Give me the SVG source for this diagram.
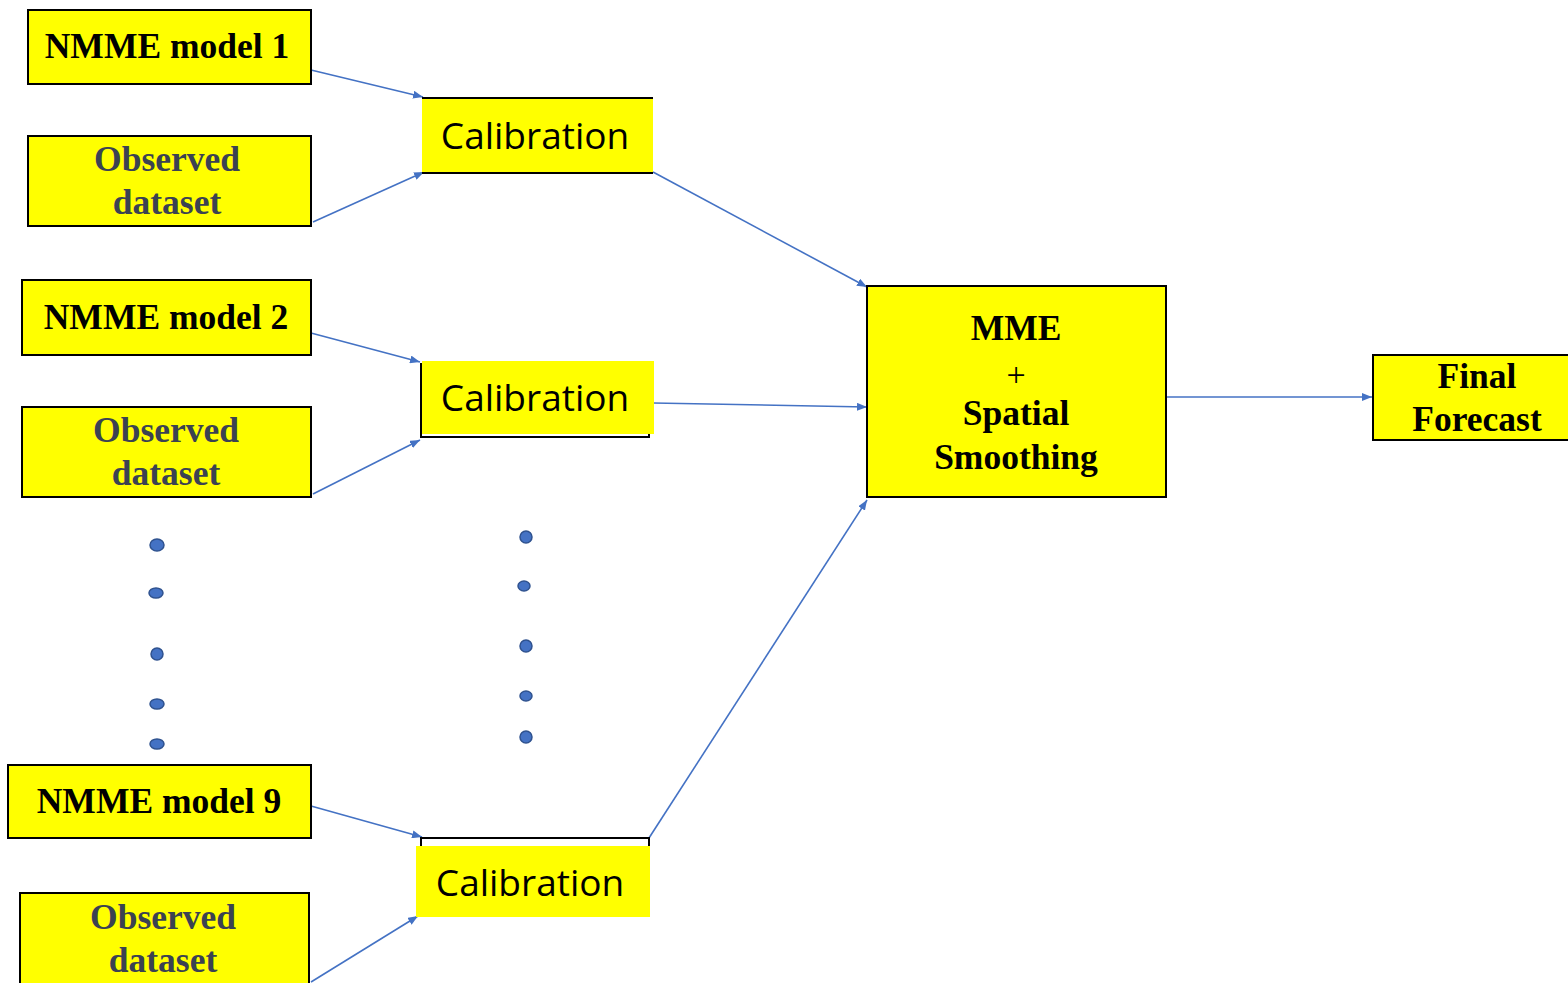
<svg xmlns="http://www.w3.org/2000/svg" width="1568" height="983" viewBox="0 0 1568 983">
<defs>
<marker id="ah" viewBox="0 0 10 8" refX="10" refY="4" markerWidth="10" markerHeight="8" markerUnits="userSpaceOnUse" orient="auto">
<path d="M0,0 L10,4 L0,8 z" fill="#4472C4"/>
</marker>
<style>
.box{fill:#FFFF00;stroke:#000;stroke-width:2}
.fill{fill:#FFFF00}
.nm{font-family:"Liberation Serif","Times New Roman",serif;font-weight:bold;font-size:35.5px;fill:#000;text-anchor:middle}
.ob{font-family:"Liberation Serif","Times New Roman",serif;font-weight:bold;font-size:35.5px;fill:#3B4252;text-anchor:middle}
.cal{font-family:"Open Sans","Noto Sans",sans-serif;font-size:37px;fill:#000;text-anchor:middle}
.con{stroke:#4472C4;stroke-width:1.6;fill:none;marker-end:url(#ah)}
.dot{fill:#4472C4;stroke:#2F528F;stroke-width:1.5}
</style>
</defs>
<rect width="1568" height="983" fill="#fff"/>

<g id="connectors">
<line class="con" x1="311" y1="70" x2="423" y2="97"/>
<line class="con" x1="313" y1="222" x2="424" y2="172"/>
<line class="con" x1="653" y1="172" x2="867" y2="287"/>
<line class="con" x1="311" y1="333" x2="420" y2="362"/>
<line class="con" x1="313" y1="494" x2="420" y2="440"/>
<line class="con" x1="653" y1="403" x2="867" y2="407"/>
<line class="con" x1="311" y1="806" x2="422" y2="837"/>
<line class="con" x1="311" y1="982" x2="418" y2="916"/>
<line class="con" x1="649" y1="838" x2="867" y2="500"/>
<line class="con" x1="1166" y1="397" x2="1372" y2="397"/>
</g>

<g id="nmme1">
<rect class="box" x="28" y="10" width="283" height="74"/>
<text class="nm" x="167" y="58">NMME model 1</text>
</g>
<g id="obs1">
<rect class="box" x="28" y="136" width="283" height="90"/>
<text class="ob" x="167" y="171">Observed</text>
<text class="ob" x="167" y="214">dataset</text>
</g>
<g id="nmme2">
<rect class="box" x="22" y="280" width="289" height="75"/>
<text class="nm" x="166" y="329">NMME model 2</text>
</g>
<g id="obs2">
<rect class="box" x="22" y="407" width="289" height="90"/>
<text class="ob" x="166" y="442">Observed</text>
<text class="ob" x="166" y="485">dataset</text>
</g>
<g id="nmme9">
<rect class="box" x="8" y="765" width="303" height="73"/>
<text class="nm" x="159" y="813">NMME model 9</text>
</g>
<g id="obs3">
<rect class="box" x="20" y="893" width="289" height="100"/>
<text class="ob" x="163" y="929">Observed</text>
<text class="ob" x="163" y="972">dataset</text>
</g>

<g id="cal1">
<rect class="fill" x="422" y="98" width="231" height="75"/>
<line x1="422" y1="98" x2="653" y2="98" stroke="#000" stroke-width="2"/>
<line x1="422" y1="173" x2="653" y2="173" stroke="#000" stroke-width="2"/>
<text class="cal" x="535" y="149">Calibration</text>
</g>
<g id="cal2">
<rect x="421" y="364" width="228" height="73" fill="none" stroke="#000" stroke-width="2"/>
<rect class="fill" x="422" y="361" width="232" height="73"/>
<text class="cal" x="535" y="411">Calibration</text>
</g>
<g id="cal3">
<rect x="421" y="838" width="228" height="60" fill="none" stroke="#000" stroke-width="2"/>
<rect class="fill" x="416" y="846" width="234" height="71"/>
<text class="cal" x="530" y="896">Calibration</text>
</g>

<g id="mme">
<rect class="box" x="867" y="286" width="299" height="211"/>
<text class="nm" x="1016" y="340">MME</text>
<text x="1016" y="386" font-family="Liberation Serif, serif" font-size="34" text-anchor="middle">+</text>
<text class="nm" x="1016" y="425">Spatial</text>
<text class="nm" x="1016" y="469">Smoothing</text>
</g>

<g id="final">
<rect class="box" x="1373" y="355" width="205" height="85"/>
<text class="nm" x="1477" y="388">Final</text>
<text class="nm" x="1477" y="431">Forecast</text>
</g>

<g id="dots">
<ellipse class="dot" cx="157" cy="545" rx="7" ry="6"/>
<ellipse class="dot" cx="156" cy="593" rx="7" ry="5"/>
<ellipse class="dot" cx="157" cy="654" rx="6" ry="6"/>
<ellipse class="dot" cx="157" cy="704" rx="7" ry="5"/>
<ellipse class="dot" cx="157" cy="744" rx="7" ry="5"/>
<ellipse class="dot" cx="526" cy="537" rx="6" ry="6"/>
<ellipse class="dot" cx="524" cy="586" rx="6" ry="5"/>
<ellipse class="dot" cx="526" cy="646" rx="6" ry="6"/>
<ellipse class="dot" cx="526" cy="696" rx="6" ry="5"/>
<ellipse class="dot" cx="526" cy="737" rx="6" ry="6"/>
</g>
</svg>
